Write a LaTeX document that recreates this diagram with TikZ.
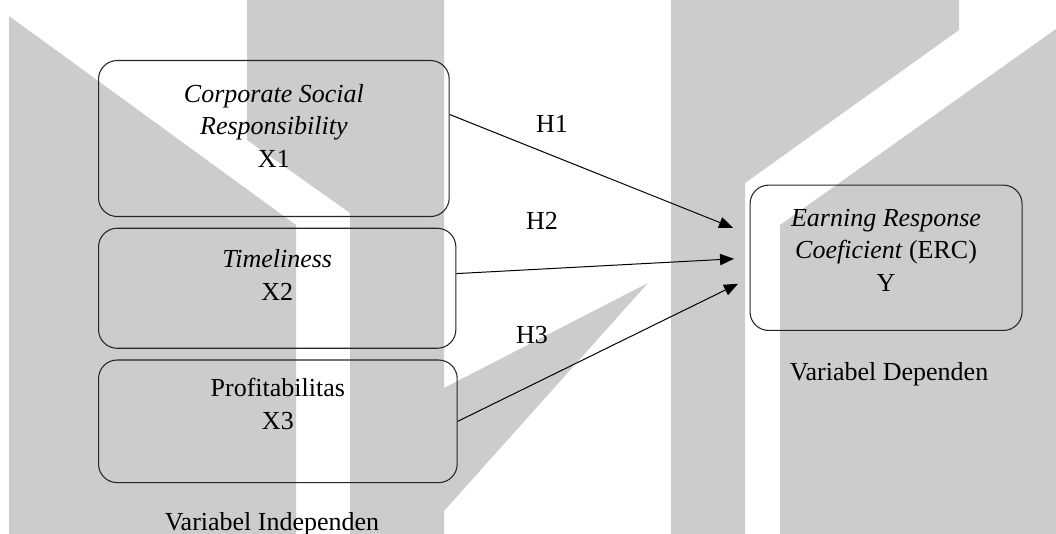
\documentclass[tikz,border=0pt]{standalone}
\usepackage{fontspec}
\setmainfont{Liberation Serif}
\usetikzlibrary{positioning,arrows.meta,calc}
\tikzstyle{wmark}=[fill=black!20, draw=none]
\tikzstyle{vbox}=[rectangle, rounded corners=14pt, draw=black!85, line width=0.8pt,
                  inner sep=0pt]
\tikzstyle{vtext}=[font=\fontsize{19.5}{24.5}\selectfont, align=center, inner sep=0pt]
\tikzstyle{harrow}=[-{Triangle[length=10.5pt,width=8.5pt]}, line width=0.75pt]

\begin{document}
\begin{tikzpicture}[x=0.75pt,y=-0.75pt]
\useasboundingbox (0,0) rectangle (1056,534);

\fill[wmark] (9,16) -- (296,225) -- (296,534) -- (9,534) -- cycle;
\fill[wmark] (247,0) -- (444,0) -- (444,388) -- (648,283) -- (444,511) -- (444,534)
  -- (350,534) -- (350,213) -- (247,140) -- cycle;
\fill[wmark] (671,0) -- (959,0) -- (959,30) -- (745,183) -- (745,534) -- (671,534) -- cycle;
\fill[wmark] (780,225) -- (1056,29) -- (1056,534) -- (780,534) -- cycle;

\node (CSR) [vbox, minimum width=263pt, minimum height=117pt, anchor=north west] at (98,60) {};
\node (CSRTXT) [vtext, below=18pt of CSR.north] {\textit{Corporate Social}\\ \textit{Responsibility}\\ X1};
\node (TML) [vbox, minimum width=268pt, minimum height=90pt,
  below=8pt of CSR.south west, anchor=north west] {};
\node (TMLTXT) [vtext, below=16pt of TML.north] {\textit{Timeliness}\\ X2};
\node (PRF) [vbox, minimum width=269pt, minimum height=92pt,
  below=8pt of TML.south west, anchor=north west] {};
\node (PRFTXT) [vtext, below=14pt of PRF.north] {Profitabilitas\\ X3};
\node (INDEP) [vtext, anchor=base] at (272,530) {Variabel Independen};

\node (ERC) [vbox, minimum width=204pt, minimum height=109pt, anchor=north west] at (749.5,184.6) {};
\node (ERCTXT) [vtext, below=18pt of ERC.north] {\textit{Earning Response}\\ \textit{Coeficient} (ERC)\\ Y};
\node (DEP) [vtext, anchor=base] at (889,380) {Variabel Dependen};

\coordinate (TIP1) at ($(ERC.west)+(-16.5,-30)$);
\coordinate (TIP2) at ($(ERC.west)+(-15.5,1)$);
\coordinate (TIP3) at ($(ERC.west)+(-11.5,26)$);
 \draw[harrow] ([yshift=18pt]CSR.east) -- (TIP1);
 \draw[harrow] ([yshift=11pt]TML.east) -- (TIP2);
 \draw[harrow] (PRF.east) -- (TIP3);
\node (H1) [vtext] at (552,124) {H1};
\node (H2) [vtext] at (542,221) {H2};
\node (H3) [vtext] at (532,335) {H3};

\end{tikzpicture}
\end{document}
